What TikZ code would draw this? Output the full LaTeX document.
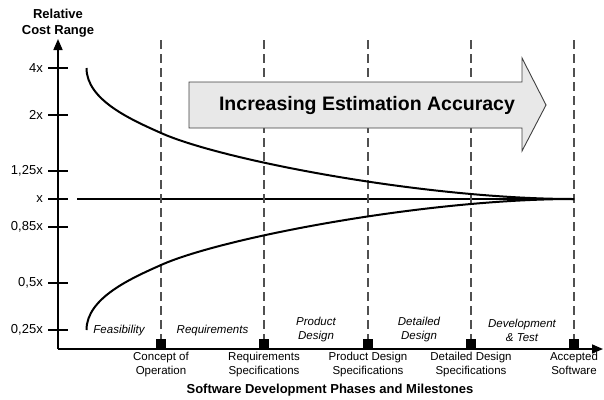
\documentclass[tikz,border=0pt]{standalone}
\usepackage{fontspec}
\setmainfont{Liberation Sans}
\usetikzlibrary{arrows.meta}
\definecolor{dashgray}{HTML}{505050}
\definecolor{arrowfill}{HTML}{E8E8E8}
\begin{document}
\begin{tikzpicture}[x=1pt,y=-1pt,
  ticklbl/.style={font=\fontsize{13}{15}\selectfont, anchor=east, inner sep=0pt},
  tickline/.style={line width=1.4pt},
  axisline/.style={line width=1.6pt, -{Triangle[length=11pt,width=9pt]}},
  phaselbl/.style={font=\fontsize{11.5}{14}\selectfont\itshape, align=center, inner sep=0pt},
  milelbl/.style={font=\fontsize{11.5}{13.5}\selectfont, align=center, inner sep=0pt, anchor=north},
  milebox/.style={fill=black, minimum width=10pt, minimum height=10pt, inner sep=0pt, anchor=south},
  phaseline/.style={dashgray, line width=1.3pt, dash pattern=on 9pt off 5pt},
  costcurve/.style={line width=2pt},
  titlelbl/.style={font=\fontsize{13}{16}\selectfont\bfseries, align=center, inner sep=0pt}
]
\useasboundingbox (0,0) rectangle (604,399);

% axes
\coordinate (O) at (58,349);
\coordinate (ytip) at (58,39);
\coordinate (xtip) at (603,349);
\draw[axisline] (O) -- (ytip);
\draw[axisline] (O) -- (xtip);

\node[titlelbl] (ytitle) at (58,23) {Relative\\Cost Range};
\node[titlelbl] (xtitle) at (330,390) {Software Development Phases and Milestones};

% ticks and labels
\foreach \y/\t/\n in {68/4x/a, 115/2x/b, 171/{1,25x}/c, 199/x/d, 227/{0,85x}/e, 283/{0,5x}/f, 330/{0,25x}/g}{
  \coordinate (tl\n) at (48,\y);
  \coordinate (tr\n) at (68,\y);
  \draw[tickline] (tl\n) -- (tr\n);
  \node[ticklbl] (lab\n) at (43,\y) {\t};
}

% reference line x
\coordinate (hx1) at (77,199);
\coordinate (hx2) at (574,199);
\draw[line width=1.1pt] (hx1) -- (hx2);

% milestones and dashed lines
\foreach \x/\n/\txt in {161/m1/{Concept of\\Operation}, 264/m2/{Requirements\\Specifications}, 368/m3/{Product Design\\Specifications}, 471/m4/{Detailed Design\\Specifications}, 574/m5/{Accepted\\Software}}{
  \node[milebox] (\n) at (\x,349) {};
  \coordinate (\n top) at (\x,40);
  \draw[phaseline] (\n top) -- (\n.north);
  \node[milelbl] (\n lbl) at (\x,352) {\txt};
}

% phase labels
\node[phaselbl] (p1) at (119,331) {Feasibility};
\node[phaselbl] (p2) at (212.5,331) {Requirements};
\node[phaselbl] (p3) at (316,330) {Product\\Design};
\node[phaselbl] (p4) at (419,330) {Detailed\\Design};
\node[phaselbl] (p5) at (522,330) {Development\\\& Test};

% funnel curves
\coordinate (upstart) at (86.5,68);
\coordinate (lostart) at (86.5,330);
\coordinate (meet) at (574,199);
\draw[costcurve] (upstart) .. controls (86.5,100) and (131,119.6) .. (161,133)
  .. controls (221,159.9) and (424,199) .. (meet);
\draw[costcurve] (lostart) .. controls (86.5,298) and (131,278.4) .. (161,265)
  .. controls (221,238.1) and (424,199) .. (meet);

% big arrow
\draw[fill=arrowfill, draw=black!75, line width=0.9pt]
  (189,82) -- (522,82) -- (522,58) -- (546,105) -- (522,151) -- (522,128) -- (189,128) -- cycle;
\node[font=\fontsize{19.5}{22}\selectfont\bfseries, inner sep=0pt] (acc) at (367,105) {Increasing Estimation Accuracy};
\end{tikzpicture}
\end{document}
